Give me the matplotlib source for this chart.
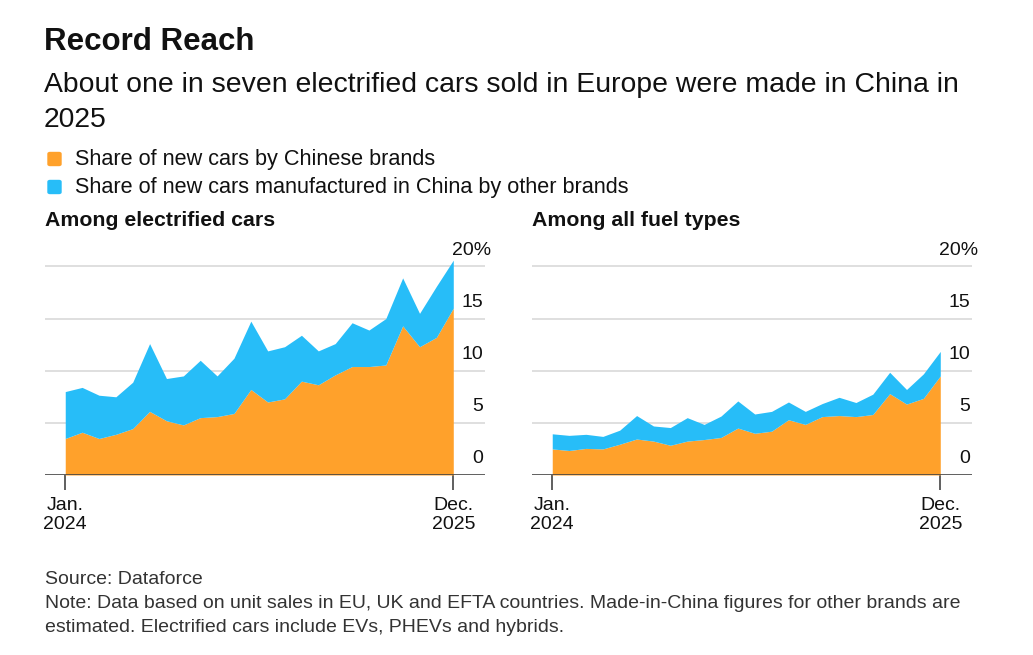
import matplotlib
matplotlib.use("Agg")
import matplotlib.pyplot as plt
from matplotlib.patches import FancyBboxPatch

plt.rcParams['font.family'] = ['Liberation Sans', 'DejaVu Sans']

# данные: доля новых авто, %, янв. 2024 - дек. 2025
months = list(range(24))
# среди электрифицированных
elec_chinese = [3.5, 4.1, 3.5, 3.9, 4.45, 6.1, 5.2, 4.8, 5.5, 5.6, 5.9, 8.2,
                7.0, 7.3, 9.0, 8.65, 9.6, 10.4, 10.4, 10.55, 14.3, 12.3, 13.2, 16.0]
elec_total = [8.0, 8.4, 7.65, 7.5, 8.9, 12.6, 9.25, 9.5, 11.0, 9.5, 11.2, 14.75,
              11.9, 12.3, 13.4, 11.9, 12.6, 14.6, 13.9, 15.0, 18.9, 15.5, 18.1, 20.6]
# среди всех типов топлива
all_chinese = [2.5, 2.35, 2.55, 2.5, 2.95, 3.45, 3.25, 2.85, 3.25, 3.4, 3.6, 4.5,
               4.0, 4.2, 5.3, 4.85, 5.6, 5.7, 5.6, 5.8, 7.8, 6.8, 7.35, 9.5]
all_total = [3.95, 3.8, 3.9, 3.7, 4.3, 5.7, 4.7, 4.55, 5.5, 4.85, 5.65, 7.1,
             5.85, 6.1, 7.0, 6.1, 6.85, 7.45, 6.95, 7.75, 9.85, 8.2, 9.7, 11.85]

y_ticks = [0, 5, 10, 15, 20]
y_labels = ['0', '5', '10', '15', '20%']
x_labels = ['Jan.\n2024', 'Dec.\n2025']

ORANGE = '#FFA12B'
BLUE = '#27BDF8'
TEXT = '#111111'

W, H = 1033, 655
fig = plt.figure(figsize=(W / 100, H / 100), dpi=100)


def fx(x):
    return x / W


def fy(y):
    return 1 - y / H


# заголовки
fig.text(fx(44), fy(42), 'Record Reach', fontsize=22.5, fontweight='bold',
         color=TEXT, va='center', ha='left')
fig.text(fx(44), fy(85), 'About one in seven electrified cars sold in Europe were made in China in',
         fontsize=20.4, color=TEXT, va='center', ha='left')
fig.text(fx(44), fy(120), '2025', fontsize=20.4, color=TEXT, va='center', ha='left')

# легенда
for yy, col, lab in [(159, ORANGE, 'Share of new cars by Chinese brands'),
                     (187, BLUE, 'Share of new cars manufactured in China by other brands')]:
    fig.patches.append(FancyBboxPatch((fx(48), fy(yy + 6.5)), 13 / W, 13 / H,
                                      boxstyle='round,pad=0,rounding_size=0.002',
                                      transform=fig.transFigure, color=col))
    fig.text(fx(75), fy(yy), lab, fontsize=15.6, color=TEXT, va='center', ha='left')


def panel(left, title, lower, total):
    ax = fig.add_axes([fx(left), fy(475), 440 / W, 219 / H])
    ax.fill_between(months, 0, lower, color=ORANGE, linewidth=0, zorder=2)
    ax.fill_between(months, lower, total, color=BLUE, linewidth=0, zorder=2)
    ax.set_xlim(-1.2, 24.88)
    ax.set_ylim(0, 21)
    for t in y_ticks[1:]:
        ax.axhline(t, color='#d9d9d9', linewidth=1.2, zorder=1)
    ax.axhline(0, color='#444444', linewidth=1.2, zorder=3)
    for t, lab in zip(y_ticks, y_labels):
        ax.text(0.995 if lab != '20%' else 0.97, t + 1.55, lab, transform=ax.get_yaxis_transform(),
                ha='right' if lab != '20%' else 'center', va='center', fontsize=14, color=TEXT)
    ax.set_xticks([months[0], months[-1]])
    ax.set_xticklabels(x_labels, fontsize=14, color=TEXT, linespacing=1.15)
    ax.tick_params(axis='x', length=11, width=1.2, color='#444444', pad=5)
    ax.set_yticks([])
    for s in ax.spines.values():
        s.set_visible(False)
    fig.text(fx(left), fy(221), title, fontsize=15.3, fontweight='bold',
             color=TEXT, va='center', ha='left')
    return ax


panel(45, 'Among electrified cars', elec_chinese, elec_total)
panel(532, 'Among all fuel types', all_chinese, all_total)

# источник и примечание
fig.text(fx(45), fy(580), 'Source: Dataforce', fontsize=14, color='#333333', va='center')
fig.text(fx(45), fy(604), 'Note: Data based on unit sales in EU, UK and EFTA countries. '
         'Made-in-China figures for other brands are', fontsize=14, color='#333333', va='center')
fig.text(fx(45), fy(627), 'estimated. Electrified cars include EVs, PHEVs and hybrids.',
         fontsize=14, color='#333333', va='center')

fig.savefig('out.png', dpi=100, facecolor='white')
